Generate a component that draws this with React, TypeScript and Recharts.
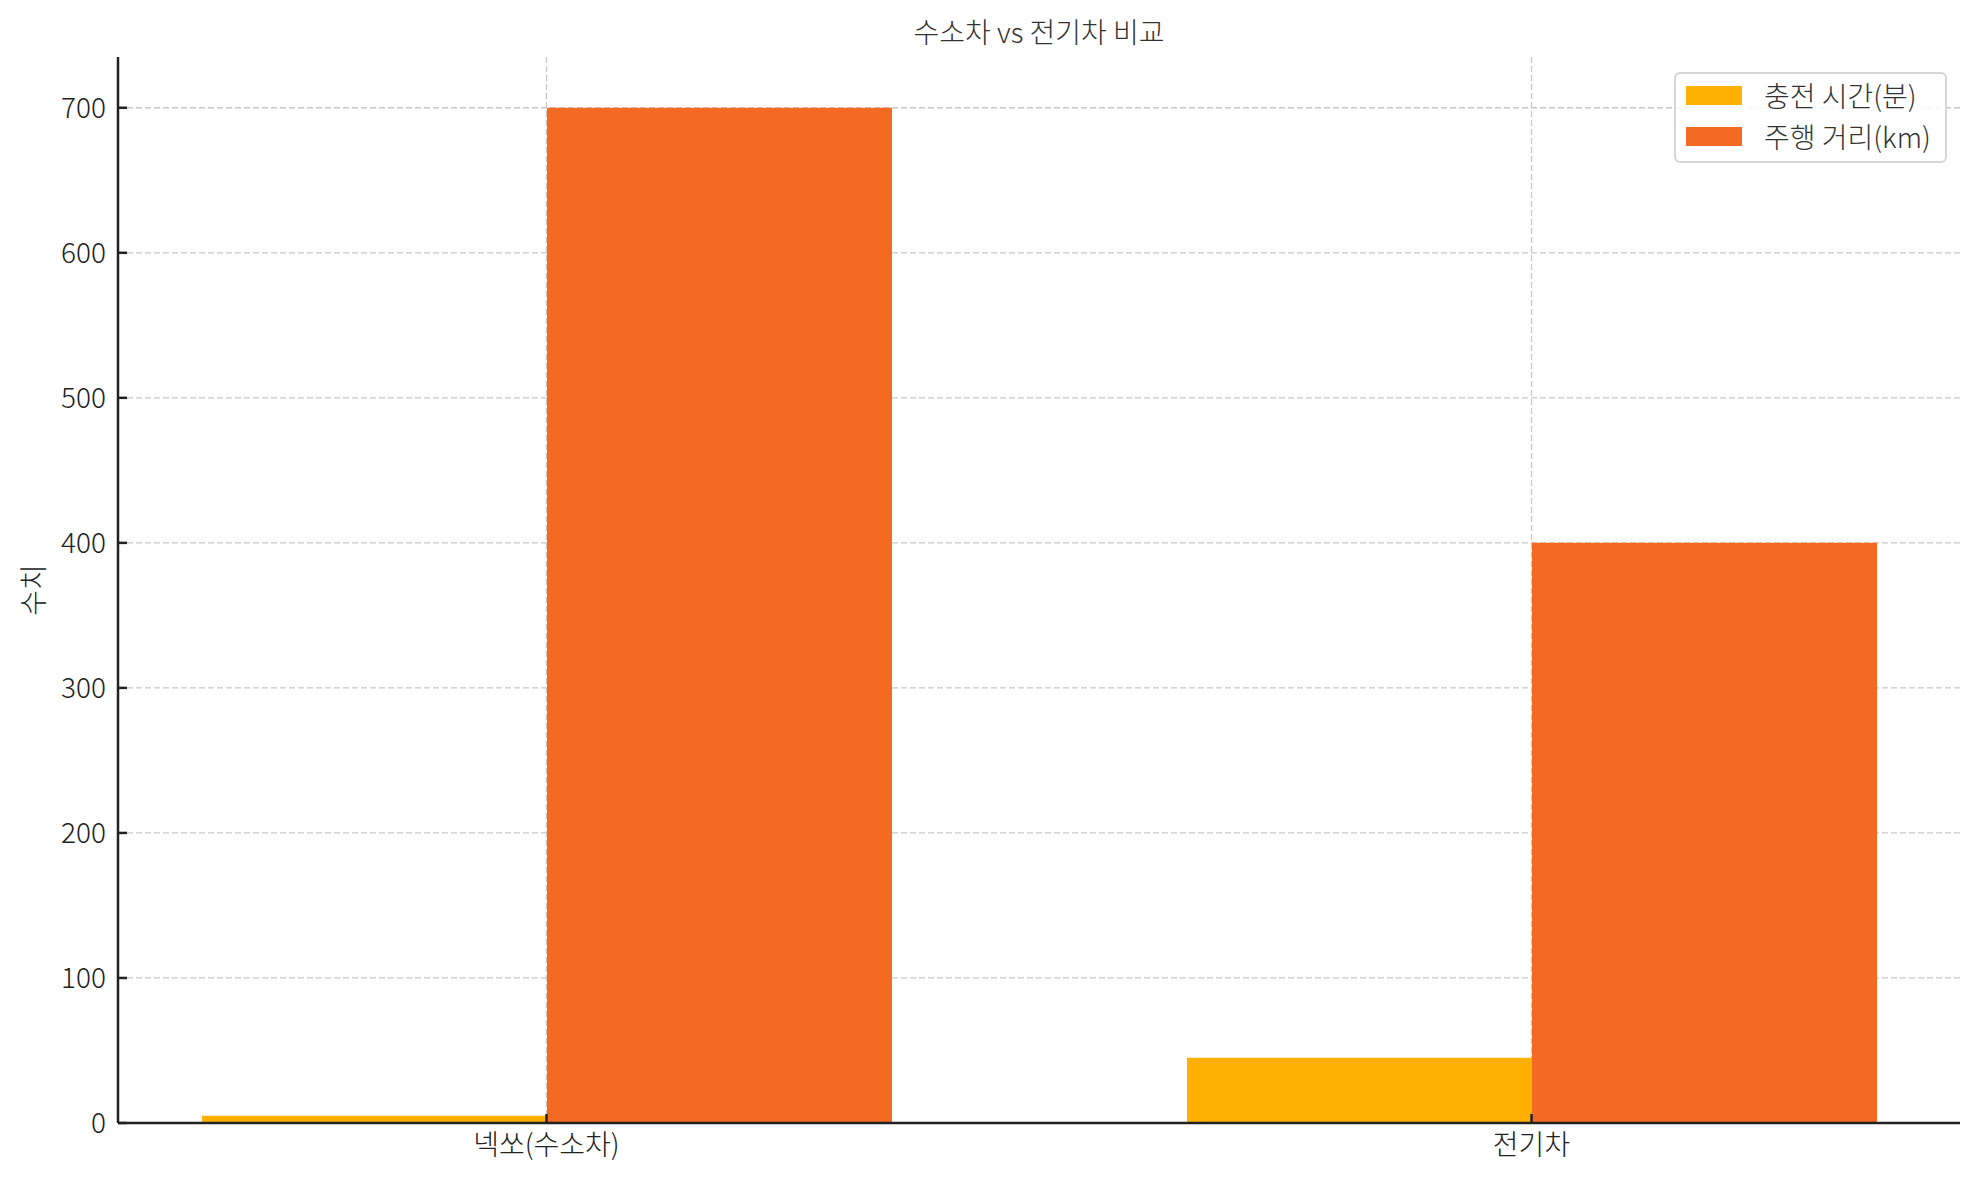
import React from 'react';
import { BarChart, Bar, XAxis, YAxis, CartesianGrid, Legend } from 'recharts';

const categories = ['넥쏘(수소차)', '전기차'];
const chargeMinutes = [5, 45];
const rangeKm = [700, 400];
const yTicks = [0, 100, 200, 300, 400, 500, 600, 700];
const xTicks = [0, 1];
const seriesNames = ['충전 시간(분)', '주행 거리(km)'];
const seriesColors = ['#ffb000', '#f46a22'];

const data = categories.map((name, i) => ({
  x: i,
  name,
  charge: chargeMinutes[i],
  range: rangeKm[i],
}));

const FONT = '"Noto Sans CJK KR", "Noto Sans", sans-serif';

const LegendBox: React.FC = () => (
  <div
    style={{
      border: '2px solid #d6d6d6',
      borderRadius: 6,
      background: 'rgba(255,255,255,0.85)',
      padding: '1px 14px 4px 10px',
      fontFamily: FONT,
      fontSize: 28,
      fontWeight: 300,
      color: '#333',
      lineHeight: '41px',
    }}
  >
    {seriesNames.map((n, i) => (
      <div key={n} style={{ display: 'flex', alignItems: 'center' }}>
        <span
          style={{
            display: 'inline-block',
            width: 56,
            height: 19,
            background: seriesColors[i],
            marginRight: 22,
          }}
        />
        <span>{n}</span>
      </div>
    ))}
  </div>
);

const YLabel: React.FC<any> = () => (
  <text
    x={32}
    y={590}
    transform="rotate(-90 32 590)"
    textAnchor="middle"
    dominantBaseline="central"
    fontFamily={FONT}
    fontSize={28}
    fontWeight={300}
    fill="#222"
  >
    수치
  </text>
);

const tickStyle = { fill: '#222', fontFamily: FONT, fontSize: 28, fontWeight: 300 };

const App: React.FC = () => {
  return (
    <div style={{ position: 'absolute', left: 0, top: 0, width: 1979, height: 1180, background: '#fff' }}>
      <div
        style={{
          position: 'absolute',
          left: 0,
          width: 2078,
          top: 11,
          textAlign: 'center',
          fontFamily: FONT,
          fontSize: 28,
          fontWeight: 300,
          color: '#333',
          lineHeight: '40px',
        }}
      >
        수소차 vs 전기차 비교
      </div>
      <BarChart
        width={1979}
        height={1180}
        data={data}
        margin={{ top: 57, right: 19, bottom: 0, left: 0 }}
        barGap={0}
        barSize={345}
      >
        <CartesianGrid
          stroke="#c8c8c8"
          strokeWidth={1.3}
          strokeDasharray="6 3"
          horizontalValues={yTicks}
          verticalValues={xTicks}
        />
        <XAxis
          dataKey="x"
          type="number"
          domain={[-0.435, 1.435]}
          ticks={xTicks}
          tickFormatter={(v: number) => categories[v]}
          height={57}
          stroke="#222"
          strokeWidth={2.5}
          tickSize={-9}
          tickMargin={21}
          tick={tickStyle}
        />
        <YAxis
          type="number"
          domain={[0, 735]}
          ticks={yTicks}
          width={118}
          stroke="#222"
          strokeWidth={2.5}
          tickSize={-9}
          tickMargin={21}
          tick={tickStyle}
          label={<YLabel />}
        />
        <Legend
          verticalAlign="middle"
          align="center"
          layout="horizontal"
          content={<LegendBox />}
          wrapperStyle={{ position: 'absolute', top: 72, left: 1674, width: 'auto', right: 'auto', bottom: 'auto' }}
        />
        <Bar dataKey="charge" name={seriesNames[0]} fill={seriesColors[0]} isAnimationActive={false} />
        <Bar dataKey="range" name={seriesNames[1]} fill={seriesColors[1]} isAnimationActive={false} />
      </BarChart>
    </div>
  );
};

export default App;
